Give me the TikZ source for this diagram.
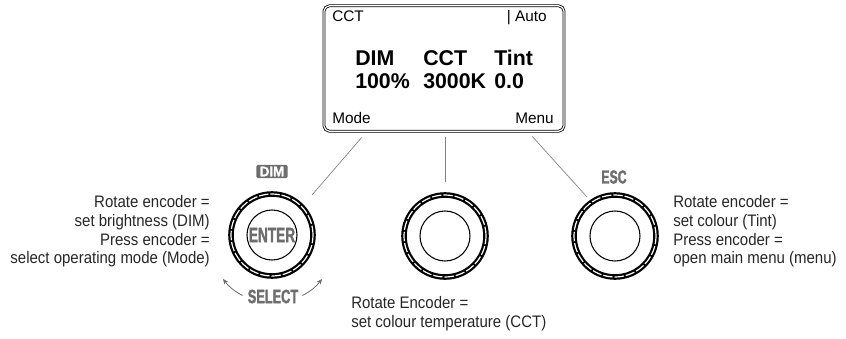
\documentclass[tikz,border=0pt]{standalone}
\usepackage{fontspec}
\setmainfont{Liberation Sans}
\newfontfamily\condfont[FakeStretch=0.9]{Liberation Sans}
\newfontfamily\keyfont[FakeStretch=0.66,FakeBold=1.5]{Liberation Sans Bold}
\newfontfamily\tagfont[FakeStretch=0.95,FakeBold=1]{Liberation Sans Bold}
\usetikzlibrary{arrows.meta, positioning}
\definecolor{keygray}{HTML}{6D6D6D}

\begin{document}
\begin{tikzpicture}[x=0.75pt,y=-0.75pt,>={Stealth[length=4pt,width=3.5pt]},
        every node/.style={inner sep=0pt},
        screen/.style={draw,double,double distance=0.9pt,line width=0.6pt,rounded corners=4pt,
        minimum width=180pt,minimum height=94pt},
        lcd/.style={font=\fontsize{11.5}{13}\selectfont},
        lcdbig/.style={font=\bfseries\fontsize{16}{17}\selectfont},
        knob/.style={circle,draw,line width=4.2pt,minimum size=61.5pt},
        grip/.style={white,line width=0.9pt,dash pattern=on 7pt off 1.5pt},
        knobcap/.style={circle,draw,line width=0.8pt,minimum size=37.5pt},
        key/.style={font=\keyfont\fontsize{14.5}{14.5}\selectfont,text=keygray},
        note/.style={font=\condfont\fontsize{12.5}{14}\selectfont,text=black!85},
        lead/.style={draw=black!50,line width=0.5pt},
        turn/.style={->,draw=keygray,line width=0.6pt}]
      \useasboundingbox (0,0) rectangle (846,339);
      % display
      \node[screen] (disp) at (444,68.5) {};
      \node[lcd,anchor=base west] (mtop) at (332,21.5) {CCT};
      \node[lcd,anchor=base east] (auto) at (547,21.5) {| Auto};
      \node[lcd,anchor=base west] (mode) at (332,123.5) {Mode};
      \node[lcd,anchor=base east] (menu) at (554,123.5) {Menu};
      \foreach \x/\h/\v [count=\i] in {355/DIM/100\%, 423/CCT/3000K, 494/Tint/0.0} {
        \node[lcdbig,anchor=base west] (head\i) at (\x,65) {\h};
        \node[lcdbig,anchor=base west] (val\i) at (\x,88) {\v};
      }
      % encoders
      \node[knob] (kdim) at (272,235) {};
      \node[knob] (kcct) at (445,236) {};
      \node[knob] (ktint) at (615,236) {};
      \foreach \k in {kdim,kcct,ktint}
        \draw[grip] (\k.center) circle[radius=30.75pt];
      \node[knobcap,key,font=\keyfont\fontsize{15.5}{15.5}\selectfont] (enter) at (kdim.center) {ENTER};
      \node[knobcap] (ccap) at (kcct.center) {};
      \node[knobcap] (tcap) at (ktint.center) {};
      \node[fill=keygray,rounded corners=1.5pt,inner xsep=1.5pt,minimum width=23.5pt,minimum height=10pt,
        text=white,font=\tagfont\fontsize{10.5}{10.5}\selectfont] (dim) at (272,171.5) {DIM};
      \node[key,font=\keyfont\fontsize{14}{14}\selectfont] (esc) at (614,177) {ESC};
      \node[key] (sel) at (273,296.5) {SELECT};
      \coordinate (selL) at (223,279);
      \coordinate (selR) at (322,279);
      \draw[turn] ([shift={(-5,-1)}]sel.west) to[bend left=12] (selL);
      \draw[turn] ([shift={(4,-1)}]sel.east) to[bend right=12] (selR);
      % leads from the display
      \draw[lead] ([shift={(38,6)}]disp.south west) -- ([shift={(40,-40)}]kdim.center);
      \draw[lead] ([shift={(1,5)}]disp.south) -- ([shift={(0,-54)}]kcct.center);
      \draw[lead] ([shift={(-32,5)}]disp.south east) -- ([shift={(-28,-39)}]ktint.center);
      % notes
      \node[note,align=right,anchor=north east] (ndim) at (210,195.5) {Rotate encoder =\\set brightness (DIM)\\Press encoder =\\select operating mode (Mode)};
      \node[note,align=left,anchor=north west] (ncct) at (351,296.5) {Rotate Encoder =\\set colour temperature (CCT)};
      \node[note,align=left,anchor=north west] (ntint) at (673,195.5) {Rotate encoder =\\set colour (Tint)\\Press encoder =\\open main menu (menu)};
    \end{tikzpicture}
\end{document}
